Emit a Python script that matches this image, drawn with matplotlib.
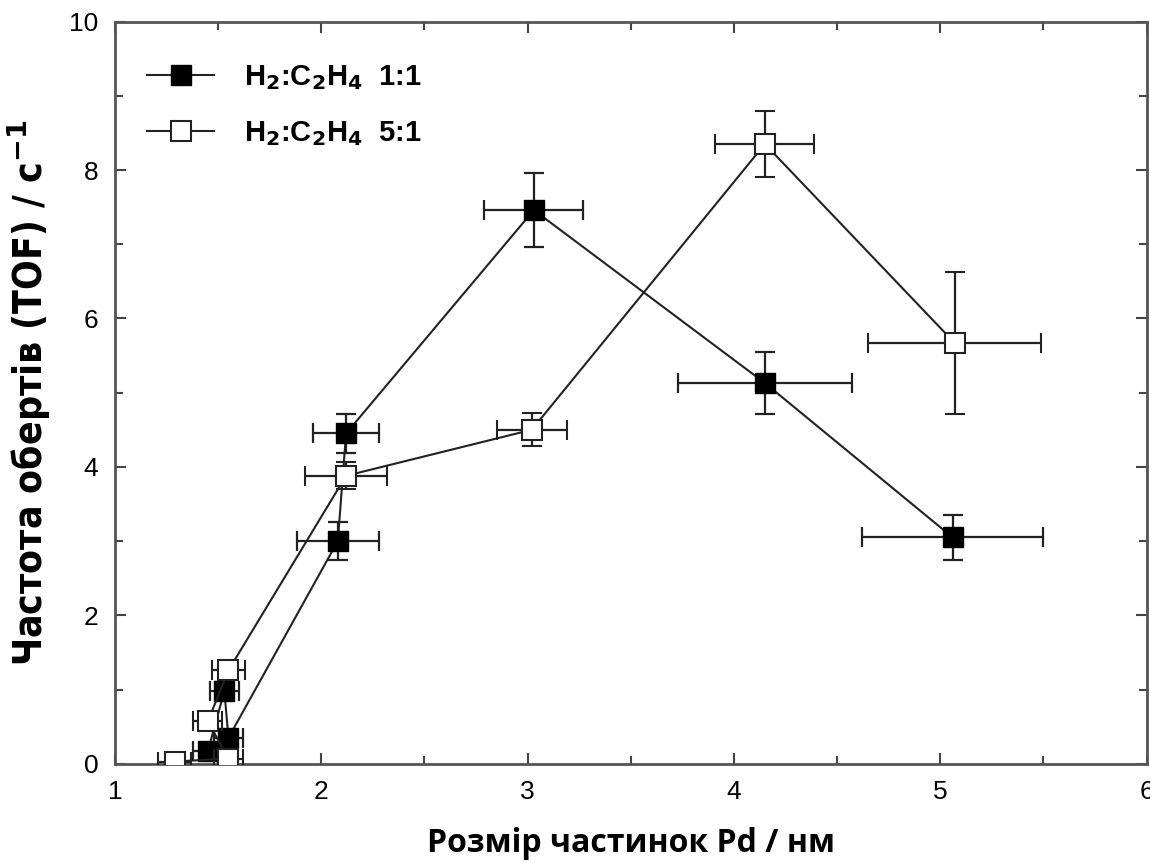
import matplotlib.pyplot as plt
from matplotlib.lines import Line2D
from matplotlib.ticker import MultipleLocator

# H2:C2H4 1:1 (filled squares)
x_11 = [1.45, 1.53, 1.55, 2.08, 2.12, 3.03, 4.15, 5.06]
y_11 = [0.17, 0.98, 0.35, 3.00, 4.45, 7.46, 5.13, 3.05]
xerr_11 = [0.07, 0.07, 0.07, 0.20, 0.16, 0.24, 0.42, 0.44]
yerr_11 = [0.10, 0.12, 0.10, 0.26, 0.26, 0.50, 0.42, 0.30]

# H2:C2H4 5:1 (open squares)
x_51 = [1.29, 1.55, 1.45, 1.55, 2.12, 3.02, 4.15, 5.07]
y_51 = [0.03, 0.07, 0.57, 1.26, 3.88, 4.50, 8.35, 5.67]
xerr_51 = [0.08, 0.07, 0.07, 0.08, 0.20, 0.17, 0.24, 0.42]
yerr_51 = [0.05, 0.08, 0.10, 0.12, 0.18, 0.22, 0.44, 0.96]

labels = [r'H$_\mathbf{2}$:C$_\mathbf{2}$H$_\mathbf{4}$  1:1',
          r'H$_\mathbf{2}$:C$_\mathbf{2}$H$_\mathbf{4}$  5:1']

fig = plt.figure(figsize=(11.5, 8.63), dpi=100)
ax = fig.add_axes([0.1, 0.115, 0.897, 0.86])

ax.errorbar(x_11, y_11, xerr=xerr_11, yerr=yerr_11, fmt='s-', color='#222222',
            mfc='black', mec='black', ms=14, lw=1.5, elinewidth=1.6,
            capsize=7, capthick=1.6, zorder=3)
ax.errorbar(x_51, y_51, xerr=xerr_51, yerr=yerr_51, fmt='s-', color='#222222',
            mfc='white', mec='#222222', mew=1.5, ms=14, lw=1.5, elinewidth=1.6,
            capsize=7, capthick=1.6, zorder=4)

ax.set_xlim(1, 6)
ax.set_ylim(0, 10)
ax.xaxis.set_major_locator(MultipleLocator(1))
ax.xaxis.set_minor_locator(MultipleLocator(0.5))
ax.yaxis.set_major_locator(MultipleLocator(2))
ax.yaxis.set_minor_locator(MultipleLocator(1))
ax.tick_params(which='both', direction='in', top=True, right=True,
               color='#444444', width=1.5)
ax.tick_params(which='major', length=8, labelsize=19, pad=12)
ax.tick_params(which='minor', length=6)
for lab in ax.get_xticklabels() + ax.get_yticklabels():
    lab.set_family('Liberation Sans')
for s in ax.spines.values():
    s.set_color('#555555')
    s.set_linewidth(2)

ax.set_xlabel('Розмір частинок Pd / нм', fontsize=23, fontweight='bold',
              family=['Open Sans', 'DejaVu Sans'], labelpad=16)
ax.set_ylabel('Частота обертів (TOF) / с$^{\\mathbf{-1}}$', fontsize=28,
              fontweight='bold', family='DejaVu Sans', fontstretch='condensed',
              labelpad=12)

handles = [
    Line2D([], [], marker='s', color='#222222', mfc='black', mec='black',
           ms=14, lw=1.5),
    Line2D([], [], marker='s', color='#222222', mfc='white', mec='#222222',
           mew=1.5, ms=14, lw=1.5),
]
ax.legend(handles, labels, loc='upper left', frameon=False,
          prop={'family': 'Liberation Sans', 'weight': 'bold', 'size': 21},
          handlelength=2.3, handletextpad=1.0, borderaxespad=0.0,
          bbox_to_anchor=(0.02, 0.96), labelspacing=0.95)

fig.savefig('out.png', dpi=100)
